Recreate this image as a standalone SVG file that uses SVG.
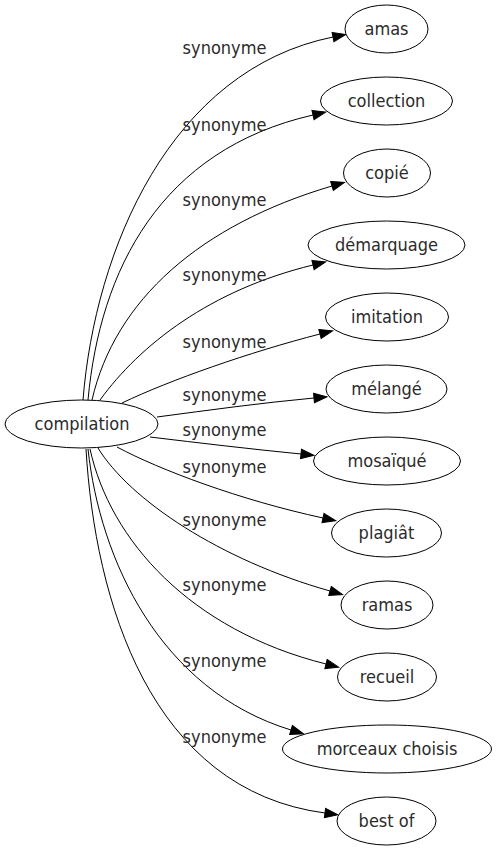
<svg xmlns="http://www.w3.org/2000/svg" width="497" height="851" viewBox="0 0 497 851">
<style>
.node ellipse{fill:#fff;stroke:#000;stroke-width:1}
.node text{font-family:"DejaVu Sans Condensed","DejaVu Sans",sans-serif;font-stretch:condensed;font-size:18px;fill:#2b2b2b;text-anchor:middle}
.edges path{fill:none;stroke:#000;stroke-width:1}
.edges text{font-family:"DejaVu Sans Condensed","DejaVu Sans",sans-serif;font-stretch:condensed;font-size:18px;fill:#2b2b2b;text-anchor:middle}
</style>
<defs>
<marker id="ah" markerUnits="userSpaceOnUse" markerWidth="14" markerHeight="10" viewBox="0 0 13 10" refX="0" refY="5" orient="auto" overflow="visible">
<path d="M0,0.3 L13,5 L0,9.7 z" fill="#000" stroke="#000" stroke-width="1"/>
</marker>
</defs>
<rect width="497" height="851" fill="#fff"/>
<g class="edges" id="edges">
<path marker-end="url(#ah)" d="M83,400 C95,250 170,70 333,37"/>
<text x="224.5" y="54">synonyme</text>
<path marker-end="url(#ah)" d="M88,400 C100,270 160,150 313,115"/>
<text x="224.5" y="131">synonyme</text>
<path marker-end="url(#ah)" d="M92,400 C115,300 200,225 332,186"/>
<text x="224.5" y="206">synonyme</text>
<path marker-end="url(#ah)" d="M100,400 C140,345 210,290 313,265"/>
<text x="224.5" y="281">synonyme</text>
<path marker-end="url(#ah)" d="M122,403 C170,380 250,352 320,334"/>
<text x="224.5" y="348">synonyme</text>
<path marker-end="url(#ah)" d="M157,417 C210,410 260,403 314,398"/>
<text x="224.5" y="401">synonyme</text>
<path marker-end="url(#ah)" d="M150,437 C200,443 250,449 301,454"/>
<text x="224.5" y="436">synonyme</text>
<path marker-end="url(#ah)" d="M117,447 C160,470 240,500 323,518"/>
<text x="224.5" y="473">synonyme</text>
<path marker-end="url(#ah)" d="M98,448 C130,500 220,560 330,591"/>
<text x="224.5" y="526">synonyme</text>
<path marker-end="url(#ah)" d="M90,449 C110,540 190,630 326,664"/>
<text x="224.5" y="591">synonyme</text>
<path marker-end="url(#ah)" d="M88,449 C100,560 160,690 291,730"/>
<text x="224.5" y="667">synonyme</text>
<path marker-end="url(#ah)" d="M86,449 C95,600 150,790 325,813"/>
<text x="224.5" y="743">synonyme</text>
</g>
<g class="node" id="compilation"><ellipse cx="81.5" cy="424" rx="76.5" ry="24"/><text x="82" y="430">compilation</text></g>
<g class="node" id="amas"><ellipse cx="386.5" cy="29" rx="41.5" ry="24"/><text x="386.5" y="35">amas</text></g>
<g class="node" id="collection"><ellipse cx="386.5" cy="101" rx="66" ry="24"/><text x="386.5" y="107">collection</text></g>
<g class="node" id="copie"><ellipse cx="387" cy="173" rx="43.5" ry="24"/><text x="387" y="179">copié</text></g>
<g class="node" id="demarquage"><ellipse cx="386.5" cy="245" rx="78.5" ry="24"/><text x="386.5" y="251">démarquage</text></g>
<g class="node" id="imitation"><ellipse cx="387" cy="317" rx="61.5" ry="24"/><text x="387" y="323">imitation</text></g>
<g class="node" id="melange"><ellipse cx="386.5" cy="389" rx="60.5" ry="24"/><text x="386.5" y="395">mélangé</text></g>
<g class="node" id="mosaique"><ellipse cx="387" cy="461" rx="73.5" ry="24"/><text x="387" y="467">mosaïqué</text></g>
<g class="node" id="plagiat"><ellipse cx="386.5" cy="533" rx="55" ry="24"/><text x="386.5" y="539">plagiât</text></g>
<g class="node" id="ramas"><ellipse cx="387" cy="605" rx="46" ry="24"/><text x="387" y="611">ramas</text></g>
<g class="node" id="recueil"><ellipse cx="387" cy="677" rx="49.5" ry="24"/><text x="387" y="683">recueil</text></g>
<g class="node" id="morceaux"><ellipse cx="387" cy="749" rx="104.5" ry="24"/><text x="387" y="755">morceaux choisis</text></g>
<g class="node" id="bestof"><ellipse cx="386.5" cy="821" rx="49.5" ry="24"/><text x="386.5" y="827">best of</text></g>
</svg>
